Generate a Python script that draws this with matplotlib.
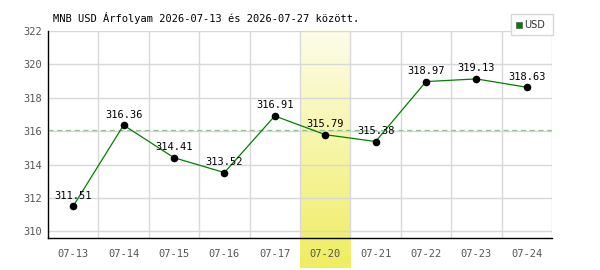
import numpy as np
import matplotlib.pyplot as plt
from matplotlib.patches import Rectangle

# -------------------------------------------------
# Daten
# -------------------------------------------------

dates = ["07-13", "07-14", "07-15", "07-16", "07-17",
         "07-20", "07-21", "07-22", "07-23", "07-24"]
rates = [311.51, 316.36, 314.41, 313.52, 316.91,
         315.79, 315.38, 318.97, 319.13, 318.63]
highlight = "07-20"
title = "MNB USD Árfolyam 2026-07-13 és 2026-07-27 között."

plt.rcParams['font.family'] = ['DejaVu Sans Mono']

fig = plt.figure(figsize=(6, 2.7), dpi=100)
ax = fig.add_axes([48/600, 32/270, 504/600, 207/270])

x = np.arange(len(dates))
ax.set_xlim(-0.5, len(dates) - 0.5)
ax.set_ylim(309.6, 322)

# Hervorhebung (Verlauf hell -> gelb)
hi = dates.index(highlight)
grad = np.linspace(0, 1, 100).reshape(-1, 1)
top = np.array([0.99, 0.99, 0.92])
bot = np.array([0.94, 0.93, 0.38])
img = top + (bot - top) * grad[..., None] * np.ones((1, 1, 3))
ax.imshow(img, extent=[hi - 0.5, hi + 0.5, 307.8, 322], aspect='auto',
          origin='upper', zorder=0, clip_on=False)

# Gitter
for v in np.arange(310, 323, 2):
    ax.axhline(v, color='#d8d8d8', lw=1, zorder=1)
for v in np.arange(0.5, len(dates), 1):
    ax.axvline(v, color='#d8d8d8', lw=1, zorder=1)

# Mittelwert
ax.axhline(np.mean(rates), color='#90c090', lw=0.9, ls=(0, (4, 3)), zorder=2)

ax.plot(x, rates, color='#008000', lw=0.9, zorder=3)
ax.scatter(x, rates, color='black', s=20, zorder=4)

for xi, r in zip(x, rates):
    ax.annotate(f"{r:.2f}", (xi, r), xytext=(0, 4), textcoords='offset points',
                ha='center', va='bottom', fontsize=7.5, color='black', zorder=5)

ax.set_xticks(x)
ax.set_xticklabels(dates)
ax.set_yticks(np.arange(310, 323, 2))
ax.tick_params(length=0, labelsize=7.5, labelcolor='#555555', pad=8)
ax.tick_params(axis='y', pad=4)

for s in ['top', 'right']:
    ax.spines[s].set_visible(False)
for s in ['left', 'bottom']:
    ax.spines[s].set_color('black')
    ax.spines[s].set_linewidth(1)

fig.text(53/600, 1 - 18/270, title, fontsize=7.5, va='center', ha='left')

# Legende
lg = Rectangle((511/600, 1 - 35/270), 42/600, 21/270, transform=fig.transFigure,
               facecolor='white', edgecolor='#d8d8d8', lw=1)
fig.patches.append(lg)
sq = Rectangle((516/600, 1 - 28/270), 6/600, 6/270, transform=fig.transFigure,
               facecolor='#008000', edgecolor='#555555', lw=0.5)
fig.patches.append(sq)
fig.text(524/600, 1 - 25/270, "USD", fontsize=7, va='center', ha='left',
         color='#333333', family='DejaVu Sans')

fig.savefig('out.png', dpi=100)
